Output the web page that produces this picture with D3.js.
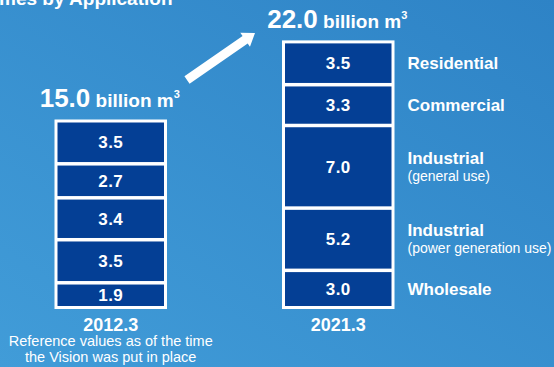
<!DOCTYPE html>
<html>
<head>
  <meta charset="utf-8">
  <title>Sales volumes by application</title>
  <style>
    html, body {
      margin: 0;
      padding: 0;
      overflow: hidden;
    }
    svg {
      display: block;
      font-family: "Liberation Sans", Arial, Helvetica, sans-serif;
    }
    text {
      fill: #fff;
    }
  </style>
  <script src="https://d3js.org/d3.v7.min.js"></script>
</head>
<body>
  <script>
    // data
    var years = ["2012.3", "2021.3"];
    var totals = [15.0, 22.0];
    var applications = ["Residential", "Commercial", "Industrial", "Industrial", "Wholesale"];
    var appNotes = ["", "", "(general use)", "(power generation use)", ""];
    var values2012 = [3.5, 2.7, 3.4, 3.5, 1.9];
    var values2021 = [3.5, 3.3, 7.0, 5.2, 3.0];
    var yearNotes = [["Reference values as of the time", "the Vision was put in place"], []];

    var width = 554;
    var height = 367;
    var navy = "#043f95";
    var border = 3;   // white frame round each bar
    var gap = 3.5;    // white gap between segments
    var bottom = 309; // outer bottom of the bars

    var svg = d3.select("body").append("svg")
      .attr("width", width)
      .attr("height", height);

    // background
    var defs = svg.append("defs");
    var grad = defs.append("linearGradient")
      .attr("id", "bg")
      .attr("x1", 0).attr("y1", 1)
      .attr("x2", 1).attr("y2", 0);
    grad.append("stop").attr("offset", 0).attr("stop-color", "#419cd8");
    grad.append("stop").attr("offset", 1).attr("stop-color", "#2e83c6");

    svg.append("rect")
      .attr("width", width)
      .attr("height", height)
      .attr("fill", "url(#bg)");

    // title, cut by the top edge as in the source
    svg.append("text")
      .attr("x", -1)
      .attr("y", 5)
      .style("font-size", "19px")
      .style("font-weight", "bold")
      .text("mes by Application");

    var x = d3.scaleBand()
      .domain(years)
      .range([54.5, 394.5])
      .paddingInner(0.5055);

    var h = d3.scaleLinear()
      .domain([0, 22])
      .range([0, 248.6]);

    // stack segments from the bottom up, with gaps
    function layout(values) {
      var cursor = bottom - border;
      var segs = [];
      for (var i = values.length - 1; i >= 0; i--) {
        var y1 = cursor;
        var y0 = y1 - h(values[i]);
        segs[i] = {index: i, value: values[i], y0: y0, y1: y1};
        cursor = y0 - gap;
      }
      return segs;
    }

    var bars = [layout(values2012), layout(values2021)];

    bars.forEach(function(segs, b) {
      var x0 = x(years[b]);
      var bw = x.bandwidth();
      var top = segs[0].y0 - border;
      var cx = x0 + bw / 2;

      var g = svg.append("g");

      g.append("rect")
        .attr("x", x0)
        .attr("y", top)
        .attr("width", bw)
        .attr("height", bottom - top)
        .attr("fill", "#fff");

      g.selectAll("rect.seg")
        .data(segs)
        .enter()
        .append("rect")
          .attr("class", "seg")
          .attr("x", x0 + border)
          .attr("y", d => d.y0)
          .attr("width", bw - 2 * border)
          .attr("height", d => d.y1 - d.y0)
          .attr("fill", navy);

      g.selectAll("text.val")
        .data(segs)
        .enter()
        .append("text")
          .attr("class", "val")
          .attr("x", cx)
          .attr("y", d => (d.y0 + d.y1) / 2 + 6)
          .attr("text-anchor", "middle")
          .style("font-size", "17px")
          .style("font-weight", "bold")
          .style("letter-spacing", "0.5px")
          .text(d => d3.format(".1f")(d.value));

      // total above the bar
      var tot = g.append("text")
        .attr("x", cx - 1)
        .attr("y", top - 12.5)
        .attr("text-anchor", "middle")
        .style("font-weight", "bold");
      tot.append("tspan")
        .style("font-size", "26px")
        .text(d3.format(".1f")(totals[b]));
      tot.append("tspan")
        .style("font-size", "19px")
        .text(" billion m");
      tot.append("tspan")
        .attr("dy", -9)
        .style("font-size", "11px")
        .text("3");

      // year under the bar
      g.append("text")
        .attr("x", cx)
        .attr("y", 330.5)
        .attr("text-anchor", "middle")
        .style("font-size", "18px")
        .style("font-weight", "bold")
        .text(years[b]);

      g.selectAll("text.note")
        .data(yearNotes[b])
        .enter()
        .append("text")
          .attr("class", "note")
          .attr("x", cx)
          .attr("y", (d, i) => 346 + i * 15.5)
          .attr("text-anchor", "middle")
          .style("font-size", "14.5px")
          .text(d => d);
    });

    // category labels beside the 2021 bar
    var right = bars[1];
    var labelX = x(years[1]) + x.bandwidth() + 13;

    var labels = svg.append("g")
      .selectAll("g")
      .data(right)
      .enter()
      .append("g")
        .attr("transform", d => "translate(" + labelX + "," + (d.y0 + d.y1) / 2 + ")");

    labels.append("text")
      .attr("y", d => appNotes[d.index] ? -3 : 6)
      .style("font-size", "17px")
      .style("font-weight", "bold")
      .text(d => applications[d.index]);

    labels.filter(d => appNotes[d.index])
      .append("text")
        .attr("y", 14)
        .style("font-size", "14px")
        .text(d => appNotes[d.index]);

    // growth arrow between the two totals
    var from = [187, 80], to = [255, 33];
    var ang = Math.atan2(to[1] - from[1], to[0] - from[0]);
    var ux = Math.cos(ang), uy = Math.sin(ang);
    var nx = -uy, ny = ux;
    var headLen = 12, headW = 8.5, shaftW = 4.5;
    var bx = to[0] - ux * headLen, by = to[1] - uy * headLen;
    var pts = [
      [from[0] + nx * shaftW, from[1] + ny * shaftW],
      [bx + nx * shaftW, by + ny * shaftW],
      [bx + nx * headW, by + ny * headW],
      to,
      [bx - nx * headW, by - ny * headW],
      [bx - nx * shaftW, by - ny * shaftW],
      [from[0] - nx * shaftW, from[1] - ny * shaftW]
    ];
    svg.append("path")
      .attr("d", d3.line()(pts) + "Z")
      .attr("fill", "#fff");
  </script>
</body>
</html>
